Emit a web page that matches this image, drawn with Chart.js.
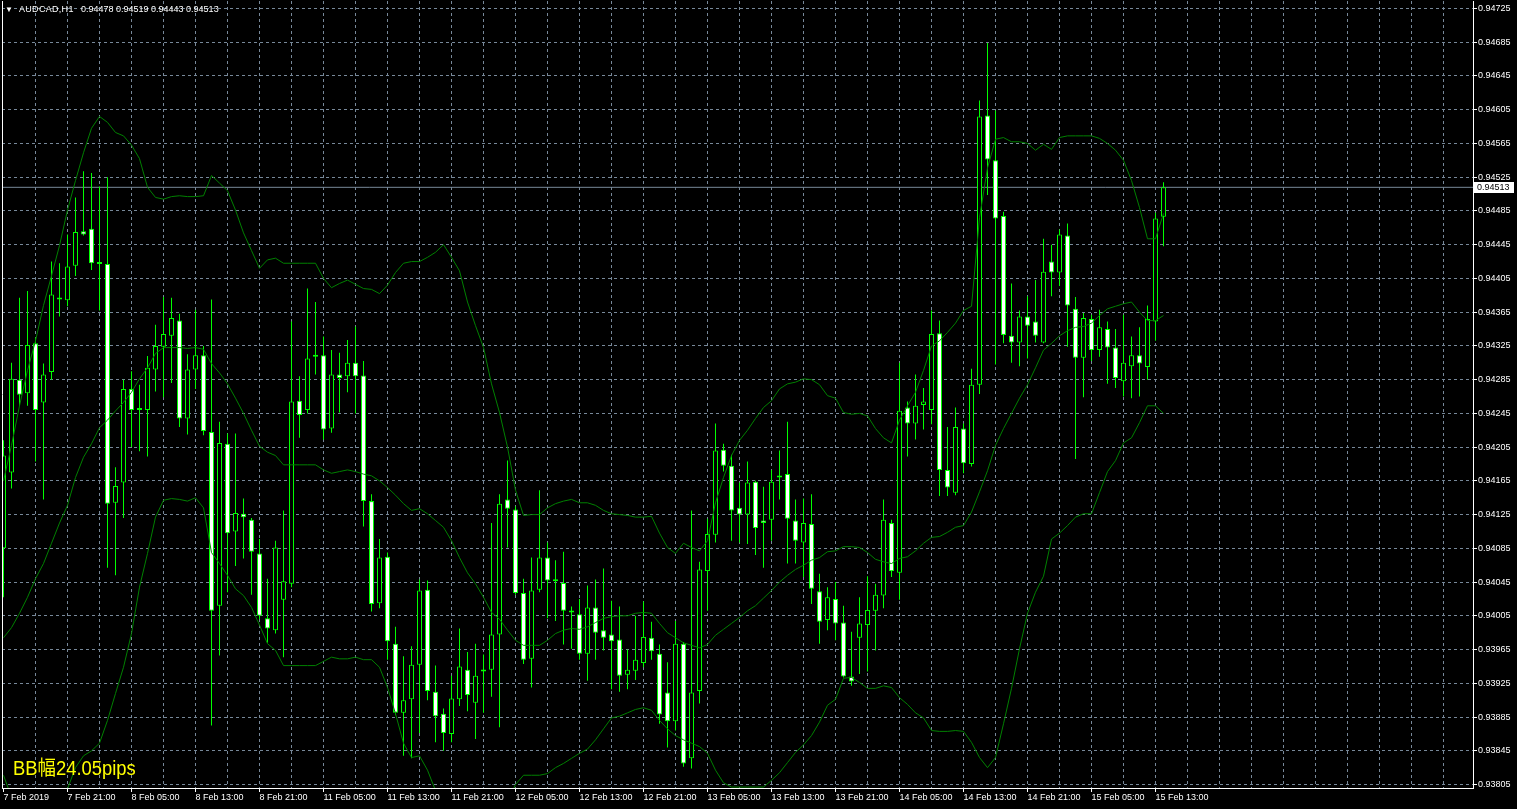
<!DOCTYPE html>
<html lang="ja">
<head>
<meta charset="UTF-8">
<title>AUDCAD,H1</title>
<script src="https://cdn.jsdelivr.net/npm/chart.js"></script>
<style>
  body { margin: 0; background: #000; overflow: hidden; }
  #wrap { position: relative; width: 1517px; height: 809px; }
  #c { position: absolute; left: 0; top: 0; }
  .hdr { position: absolute; top: 4px; color: #fff; font: 9px "Liberation Sans", Arial, sans-serif; white-space: pre; }
  .bb { position: absolute; left: 13px; top: 758px; color: #ffff00; font: 20px/20px "Liberation Sans", "Noto Sans CJK JP", sans-serif;
        transform: scaleX(0.92); transform-origin: 0 0; white-space: pre; }
</style>
</head>
<body>
<div id="wrap">
  <canvas id="c" width="1517" height="809"></canvas>
  <div class="hdr" style="left:5px;font-size:8px;top:5px">&#9660;</div>
  <div class="hdr" style="left:19px;letter-spacing:0.3px">AUDCAD,H1</div>
  <div class="hdr" style="left:81px">0.94478 0.94519 0.94443 0.94513</div>
  <div class="bb">BB幅24.05pips</div>
</div>
<script>
// AUDCAD H1, bar 0 = 7 Feb 13:00, one bar per hour
const opens = [
  0.94085,0.94175,0.94285,0.94269,0.94328,0.94258,0.94294,0.94380,0.94379,0.94420,
  0.94461,0.94464,0.94423,0.94422,0.94139,0.94163,0.94274,0.94250,0.94249,0.94297,
  0.94324,0.94337,0.94355,0.94239,0.94297,0.94314,0.94223,0.94017,0.94209,0.94105,
  0.94126,0.94119,0.94079,0.94002,0.93988,0.94024,0.94043,0.94260,0.94249,0.94313,
  0.94314,0.94227,0.94291,0.94289,0.94305,0.94290,0.94141,0.94020,0.94075,0.93972,
  0.93890,0.93906,0.93947,0.94036,0.93915,0.93889,0.93865,0.93906,0.93941,0.93902,
  0.93939,0.93941,0.93983,0.94143,0.94131,0.94032,0.93954,0.94036,0.94074,0.94047,
  0.94044,0.94011,0.94007,0.93960,0.94015,0.93988,0.93983,0.93977,0.93935,0.93940,
  0.93949,0.93979,0.93960,0.93914,0.93880,0.93972,0.93836,0.93916,0.94058,0.94101,
  0.94202,0.94183,0.94133,0.94125,0.94164,0.94118,0.94119,0.94169,0.94173,0.94118,
  0.94092,0.94114,0.94034,0.94000,0.94025,0.93997,0.93933,0.93979,0.93994,0.94011,
  0.94029,0.94115,0.94056,0.94252,0.94233,0.94255,0.94249,0.94340,0.94178,0.94151,
  0.94227,0.94185,0.94279,0.94598,0.94545,0.94479,0.94337,0.94329,0.94360,0.94354,
  0.94329,0.94425,0.94412,0.94456,0.94369,0.94311,0.94357,0.94320,0.94345,0.94323,
  0.94283,0.94301,0.94314,0.94300,0.94354,0.94478
];
const highs = [
  0.94213,0.94305,0.94382,0.94390,0.94335,0.94304,0.94425,0.94423,0.94457,0.94501,
  0.94532,0.94530,0.94514,0.94525,0.94181,0.94285,0.94295,0.94279,0.94313,0.94350,
  0.94383,0.94382,0.94363,0.94315,0.94368,0.94325,0.94380,0.94235,0.94221,0.94221,
  0.94144,0.94121,0.94096,0.94049,0.94094,0.94130,0.94354,0.94289,0.94393,0.94377,
  0.94336,0.94320,0.94317,0.94332,0.94348,0.94307,0.94149,0.94096,0.94080,0.93992,
  0.93957,0.93969,0.94048,0.94047,0.93946,0.93895,0.93934,0.93990,0.93962,0.93972,
  0.93959,0.94115,0.94149,0.94189,0.94135,0.94049,0.94074,0.94154,0.94092,0.94071,
  0.94081,0.94016,0.94025,0.94041,0.94048,0.94061,0.94023,0.94016,0.93965,0.94005,
  0.94022,0.93998,0.93971,0.93950,0.93999,0.93974,0.94130,0.94069,0.94120,0.94233,
  0.94209,0.94196,0.94163,0.94188,0.94165,0.94158,0.94178,0.94201,0.94235,0.94143,
  0.94144,0.94149,0.94055,0.94039,0.94045,0.94017,0.93986,0.94027,0.94052,0.94043,
  0.94143,0.94119,0.94305,0.94259,0.94291,0.94275,0.94367,0.94355,0.94229,0.94252,
  0.94233,0.94298,0.94616,0.94684,0.94604,0.94484,0.94399,0.94367,0.94384,0.94403,
  0.94452,0.94445,0.94463,0.94470,0.94383,0.94364,0.94362,0.94368,0.94354,0.94345,
  0.94362,0.94336,0.94347,0.94373,0.94483,0.94519
];
const lows = [
  0.94027,0.94156,0.94254,0.94254,0.94188,0.94143,0.94285,0.94360,0.94372,0.94408,
  0.94456,0.94415,0.94367,0.94062,0.94053,0.94121,0.94205,0.94200,0.94194,0.94271,
  0.94264,0.94281,0.94229,0.94220,0.94274,0.94219,0.93875,0.93958,0.94033,0.94064,
  0.94073,0.94030,0.94001,0.93973,0.93984,0.93956,0.94039,0.94216,0.94245,0.94291,
  0.94214,0.94222,0.94246,0.94270,0.94245,0.94111,0.94010,0.94014,0.93953,0.93887,
  0.93839,0.93836,0.93866,0.93905,0.93855,0.93845,0.93855,0.93898,0.93892,0.93859,
  0.93890,0.93909,0.93873,0.94086,0.94030,0.93948,0.93920,0.94033,0.94002,0.93999,
  0.93971,0.93966,0.93953,0.93928,0.93953,0.93964,0.93918,0.93915,0.93918,0.93929,
  0.93944,0.93953,0.93877,0.93849,0.93869,0.93826,0.93824,0.93901,0.94011,0.94092,
  0.94176,0.94094,0.94092,0.94090,0.94077,0.94062,0.94094,0.94143,0.94067,0.94067,
  0.94051,0.94019,0.93972,0.93988,0.93976,0.93932,0.93922,0.93936,0.93939,0.93964,
  0.94014,0.94051,0.94024,0.94194,0.94214,0.94226,0.94232,0.94147,0.94147,0.94148,
  0.94174,0.94182,0.94268,0.94504,0.94303,0.94328,0.94305,0.94301,0.94310,0.94329,
  0.94328,0.94384,0.94396,0.94324,0.94191,0.94264,0.94307,0.94312,0.94280,0.94275,
  0.94265,0.94263,0.94265,0.94285,0.94331,0.94443
];
const closes = [
  0.94195,0.94286,0.94267,0.94326,0.94249,0.94291,0.94386,0.94381,0.94419,0.94460,
  0.94457,0.94423,0.94422,0.94138,0.94159,0.94274,0.94249,0.94249,0.94299,0.94325,
  0.94339,0.94358,0.94239,0.94297,0.94314,0.94224,0.94011,0.94210,0.94103,0.94127,
  0.94122,0.94081,0.94005,0.93990,0.94086,0.94046,0.94259,0.94243,0.94310,0.94312,
  0.94226,0.94291,0.94287,0.94305,0.94289,0.94141,0.94019,0.94074,0.93975,0.93890,
  0.93905,0.93947,0.94035,0.93916,0.93886,0.93866,0.93907,0.93945,0.93911,0.93934,
  0.93941,0.93983,0.94138,0.94132,0.94032,0.93953,0.94035,0.94074,0.94047,0.94046,
  0.94011,0.94009,0.93960,0.94015,0.93985,0.93979,0.93975,0.93934,0.93941,0.93953,
  0.93980,0.93963,0.93888,0.93880,0.93972,0.93830,0.93914,0.94060,0.94102,0.94201,
  0.94183,0.94130,0.94125,0.94163,0.94109,0.94115,0.94164,0.94171,0.94120,0.94094,
  0.94115,0.94037,0.93998,0.94027,0.93996,0.93933,0.93927,0.93996,0.94012,0.94030,
  0.94119,0.94058,0.94248,0.94233,0.94254,0.94259,0.94339,0.94178,0.94157,0.94229,
  0.94186,0.94279,0.94597,0.94546,0.94476,0.94338,0.94329,0.94360,0.94349,0.94337,
  0.94413,0.94412,0.94457,0.94373,0.94311,0.94358,0.94320,0.94347,0.94323,0.94287,
  0.94305,0.94314,0.94304,0.94357,0.94476,0.94513
];
// Bollinger bands as shown on the chart
const upperBand = [
  0.94165,0.94207,0.94254,0.94296,0.94331,0.94373,0.94408,0.94444,0.94486,0.94521,
  0.94554,0.94583,0.94597,0.94590,0.94578,0.94574,0.94563,0.94547,0.94513,0.94501,
  0.94499,0.94502,0.94503,0.94502,0.94502,0.94503,0.94527,0.94518,0.94509,0.94486,
  0.94459,0.94438,0.94417,0.94427,0.94429,0.94423,0.94423,0.94423,0.94423,0.94423,
  0.94405,0.94394,0.94399,0.94403,0.94398,0.94393,0.94392,0.94387,0.94397,0.94412,
  0.94423,0.94425,0.94425,0.94430,0.94436,0.94445,0.94430,0.94414,0.94377,0.94349,
  0.94323,0.94280,0.94246,0.94205,0.94154,0.94124,0.94125,0.94125,0.94133,0.94138,
  0.94141,0.94143,0.94139,0.94139,0.94136,0.94130,0.94126,0.94125,0.94124,0.94122,
  0.94122,0.94123,0.94103,0.94086,0.94079,0.94091,0.94086,0.94082,0.94094,0.94139,
  0.94169,0.94195,0.94213,0.94225,0.94239,0.94252,0.94260,0.94274,0.94280,0.94282,
  0.94286,0.94285,0.94279,0.94266,0.94263,0.94246,0.94244,0.94245,0.94242,0.94227,
  0.94216,0.94210,0.94237,0.94254,0.94270,0.94296,0.94325,0.94331,0.94341,0.94352,
  0.94367,0.94372,0.94477,0.94536,0.94570,0.94572,0.94567,0.94567,0.94565,0.94557,
  0.94564,0.94558,0.94572,0.94574,0.94574,0.94574,0.94574,0.94571,0.94565,0.94557,
  0.94545,0.94521,0.94489,0.94452,0.94452,0.94482
];
const middleBand = [
  0.93979,0.93991,0.94008,0.94027,0.94049,0.94067,0.94091,0.94115,0.94136,0.94169,
  0.94193,0.94209,0.94228,0.94237,0.94248,0.94258,0.94270,0.94286,0.94299,0.94316,
  0.94323,0.94323,0.94323,0.94322,0.94323,0.94321,0.94304,0.94293,0.94280,0.94263,
  0.94245,0.94225,0.94206,0.94199,0.94195,0.94184,0.94184,0.94184,0.94184,0.94184,
  0.94178,0.94174,0.94176,0.94178,0.94176,0.94173,0.94171,0.94165,0.94157,0.94148,
  0.94138,0.94130,0.94132,0.94126,0.94118,0.94110,0.94094,0.94074,0.94056,0.94043,
  0.94027,0.94009,0.94001,0.93988,0.93976,0.93970,0.93970,0.93970,0.93976,0.93984,
  0.93988,0.93990,0.93989,0.93992,0.93997,0.94002,0.94004,0.94005,0.94005,0.94008,
  0.94009,0.94008,0.93996,0.93985,0.93979,0.93973,0.93970,0.93967,0.93971,0.93982,
  0.93989,0.93996,0.94003,0.94011,0.94017,0.94026,0.94035,0.94045,0.94053,0.94060,
  0.94065,0.94071,0.94074,0.94081,0.94082,0.94087,0.94087,0.94086,0.94080,0.94072,
  0.94069,0.94067,0.94073,0.94075,0.94082,0.94091,0.94098,0.94099,0.94104,0.94110,
  0.94112,0.94128,0.94152,0.94177,0.94207,0.94227,0.94245,0.94263,0.94279,0.94299,
  0.94320,0.94328,0.94337,0.94343,0.94347,0.94348,0.94352,0.94361,0.94369,0.94372,
  0.94375,0.94377,0.94365,0.94355,0.94355,0.94361
];
const lowerBand = [
  0.93816,0.93790,0.93778,0.93770,0.93768,0.93770,0.93778,0.93790,0.93800,0.93825,
  0.93839,0.93845,0.93854,0.93881,0.93913,0.93944,0.93984,0.94039,0.94079,0.94122,
  0.94142,0.94144,0.94143,0.94141,0.94145,0.94133,0.94080,0.94067,0.94053,0.94037,
  0.94029,0.94015,0.93994,0.93972,0.93964,0.93946,0.93946,0.93946,0.93946,0.93946,
  0.93951,0.93956,0.93954,0.93954,0.93956,0.93953,0.93953,0.93944,0.93920,0.93889,
  0.93854,0.93837,0.93839,0.93822,0.93798,0.93778,0.93760,0.93742,0.93738,0.93738,
  0.93735,0.93742,0.93760,0.93785,0.93805,0.93816,0.93816,0.93816,0.93818,0.93825,
  0.93830,0.93836,0.93842,0.93847,0.93858,0.93871,0.93884,0.93886,0.93890,0.93894,
  0.93896,0.93893,0.93881,0.93871,0.93863,0.93858,0.93854,0.93850,0.93842,0.93822,
  0.93807,0.93802,0.93802,0.93802,0.93802,0.93802,0.93810,0.93819,0.93831,0.93843,
  0.93852,0.93863,0.93879,0.93899,0.93906,0.93931,0.93932,0.93926,0.93919,0.93919,
  0.93922,0.93920,0.93908,0.93900,0.93890,0.93884,0.93869,0.93868,0.93868,0.93869,
  0.93868,0.93855,0.93837,0.93825,0.93837,0.93877,0.93919,0.93966,0.94008,0.94033,
  0.94052,0.94096,0.94103,0.94112,0.94122,0.94126,0.94126,0.94151,0.94176,0.94189,
  0.94210,0.94216,0.94234,0.94254,0.94254,0.94245
];
// one time label every 8 bars
const timeLabels = [
  '7 Feb 2019','7 Feb 21:00','8 Feb 05:00','8 Feb 13:00','8 Feb 21:00',
  '11 Feb 05:00','11 Feb 13:00','11 Feb 21:00','12 Feb 05:00','12 Feb 13:00',
  '12 Feb 21:00','13 Feb 05:00','13 Feb 13:00','13 Feb 21:00','14 Feb 05:00',
  '14 Feb 13:00','14 Feb 21:00','15 Feb 05:00','15 Feb 13:00'
];
const priceTicks = [
  0.94725,0.94685,0.94645,0.94605,0.94565,0.94525,0.94485,0.94445,0.94405,0.94365,
  0.94325,0.94285,0.94245,0.94205,0.94165,0.94125,0.94085,0.94045,0.94005,0.93965,
  0.93925,0.93885,0.93845,0.93805
];
const bid = closes[closes.length - 1];

// axis window: 8 px per bar, 84350 px per price unit
const xMin = -0.1875, xMax = 183.6875;
const yMax = 0.94725 + 7.5 / 84350, yMin = 0.94725 - 779.5 / 84350;

const GRID = '#778899', LIME = '#00ff00', BAND = '#008000';
const font = { family: 'Liberation Sans', size: 9 };

const idx = opens.map((_, i) => i);
const bodies = idx.map(i => ({ x: i, y: [opens[i], closes[i]] }));
const wicks = idx.map(i => ({ x: i, y: [lows[i], highs[i]] }));
const band = arr => arr.map((v, i) => ({ x: i, y: v }));

const lineDs = (label, data, color, order) => ({
  type: 'line', label, data, borderColor: color, borderWidth: 1,
  pointRadius: 0, tension: 0, fill: false, order
});

const frame = {
  id: 'frame',
  afterDraw(chart) {
    const { ctx, chartArea: a, scales: { y } } = chart;
    ctx.save();
    ctx.strokeStyle = '#fff';
    ctx.lineWidth = 1;
    ctx.beginPath();
    ctx.moveTo(a.left + 0.5, a.top);
    ctx.lineTo(a.left + 0.5, a.bottom);
    ctx.stroke();
    // bid price tag on the scale
    const py = Math.round(y.getPixelForValue(bid));
    ctx.fillStyle = '#fff';
    ctx.fillRect(a.right + 1, py - 5, 40, 11);
    ctx.fillStyle = '#000';
    ctx.font = '9px "Liberation Sans"';
    ctx.textBaseline = 'middle';
    ctx.fillText(bid.toFixed(5), a.right + 4, py + 0.5);
    ctx.restore();
  }
};

new Chart(document.getElementById('c'), {
  type: 'bar',
  data: {
    datasets: [
      lineDs('Upper', band(upperBand), BAND, 0),
      lineDs('Middle', band(middleBand), BAND, 0),
      lineDs('Lower', band(lowerBand), BAND, 0),
      {
        label: 'Body', data: bodies, order: 1, grouped: false,
        backgroundColor: bodies.map(b => b.y[1] >= b.y[0] ? '#000000' : '#ffffff'),
        borderColor: LIME, borderWidth: 1, borderSkipped: false,
        barThickness: 5, maxBarThickness: 5, minBarLength: 2, inflateAmount: 0
      },
      {
        label: 'Wick', data: wicks, order: 2, grouped: false,
        backgroundColor: LIME, borderWidth: 0,
        barThickness: 1, maxBarThickness: 1, inflateAmount: 0
      },
      lineDs('Bid', [{ x: xMin, y: bid }, { x: xMax, y: bid }], GRID, 3)
    ]
  },
  options: {
    responsive: false,
    animation: false,
    events: [],
    layout: { padding: { left: 2, top: 1, right: 0, bottom: 0 } },
    plugins: { legend: { display: false }, tooltip: { enabled: false } },
    scales: {
      x: {
        type: 'linear', min: xMin, max: xMax, offset: false,
        grid: {
          offset: false, lineWidth: 1, tickLength: 4,
          color: c => (c.tick && c.tick.value === 0) ? 'rgba(0,0,0,0)' : GRID,
          tickColor: c => (c.tick && c.tick.value % 8 === 0 && c.tick.value / 8 < timeLabels.length) ? '#ffffff' : 'rgba(0,0,0,0)'
        },
        border: { display: true, color: '#ffffff', width: 1, dash: [3, 3] },
        ticks: {
          autoSkip: false, maxRotation: 0, minRotation: 0, align: 'start',
          color: '#ffffff', font, padding: 0,
          callback: v => (v % 8 === 0 && v / 8 < timeLabels.length) ? timeLabels[v / 8] : ''
        },
        afterBuildTicks: s => {
          const t = [];
          for (let v = 0; v <= xMax; v += 4) t.push({ value: v });
          s.ticks = t;
        },
        afterFit: s => { s.height = 21; s.paddingLeft = 0; s.paddingRight = 0; }
      },
      y: {
        type: 'linear', position: 'right', min: yMin, max: yMax,
        grid: { color: GRID, lineWidth: 1, tickLength: 4, tickColor: '#ffffff' },
        border: { display: true, color: '#ffffff', width: 1, dash: [3, 3] },
        ticks: { autoSkip: false, color: '#ffffff', font, padding: 1, callback: v => v.toFixed(5) },
        afterBuildTicks: s => { s.ticks = priceTicks.map(v => ({ value: v })); },
        afterFit: s => { s.width = 44; s.paddingTop = 0; s.paddingBottom = 0; }
      }
    }
  },
  plugins: [frame]
});
</script>
</body>
</html>
